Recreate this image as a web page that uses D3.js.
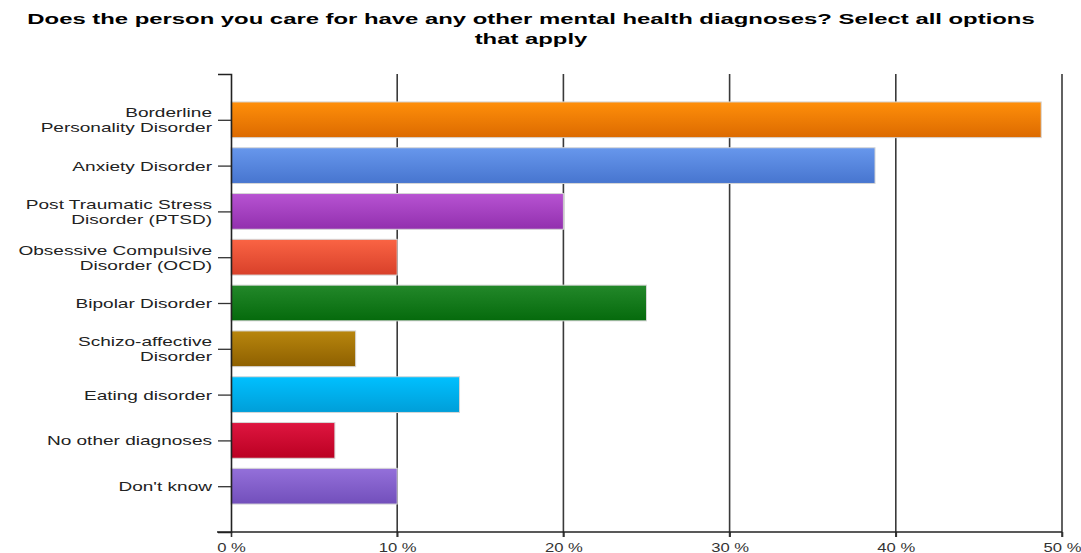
<!DOCTYPE html>
<html>
<head>
<meta charset="utf-8">
<script src="https://cdn.jsdelivr.net/npm/d3@7"></script>
<style>
  html, body { margin: 0; padding: 0; background: #fff; }
  svg { display: block; }
  text { font-family: "Liberation Sans", Arial, sans-serif; }
</style>
</head>
<body>
<svg id="chart" width="1081" height="553"></svg>
<script>
// Survey responses: share of carers selecting each additional diagnosis
const categories = [
  "Borderline\nPersonality Disorder",
  "Anxiety Disorder",
  "Post Traumatic Stress\nDisorder (PTSD)",
  "Obsessive Compulsive\nDisorder (OCD)",
  "Bipolar Disorder",
  "Schizo-affective\nDisorder",
  "Eating disorder",
  "No other diagnoses",
  "Don't know"
];
const percentages = [48.75, 38.75, 20, 10, 25, 7.5, 13.75, 6.25, 10];
const barColors = [
  ["#ff8f0a", "#dc6a00"],
  ["#6797ec", "#4775cf"],
  ["#b753d2", "#9230ae"],
  ["#fa6444", "#d8402a"],
  ["#23882a", "#056a0c"],
  ["#b8860e", "#8e6000"],
  ["#00c0ff", "#009ed8"],
  ["#de1640", "#bb0022"],
  ["#9470da", "#724fbb"]
];
const xTicks = [0, 10, 20, 30, 40, 50];
const titleLines = [
  "Does the person you care for have any other mental health diagnoses? Select all options",
  "that apply"
];

const svg = d3.select("#chart");
// horizontal stretch of the wide letterforms
const titleStretch = 1.54;
const labelStretch = 1.41;
const tickStretch = 1.28;

const x = d3.scaleLinear().domain([0, 50]).range([231, 1062]);
const y = d3.scalePoint().domain(categories).range([74, 532]).padding(1);
const barH = y.step() * 0.78;

// vertical gradients for the bars
const defs = svg.append("defs");
barColors.forEach((c, i) => {
  const g = defs.append("linearGradient").attr("id", "grad" + i)
    .attr("x1", 0).attr("y1", 0).attr("x2", 0).attr("y2", 1);
  g.append("stop").attr("offset", "0%").attr("stop-color", c[0]);
  g.append("stop").attr("offset", "100%").attr("stop-color", c[1]);
});

// title
const title = svg.append("g");
titleLines.forEach((t, i) => {
  title.append("text")
    .attr("x", 0).attr("y", 0)
    .attr("text-anchor", "middle")
    .attr("font-size", 15.5).attr("font-weight", "bold").attr("fill", "#000")
    .attr("transform", `translate(531,${24 + i * 20}) scale(${titleStretch},1)`)
    .text(t);
});

// vertical grid lines + bottom tick marks
svg.append("g").selectAll("line").data(xTicks.slice(1)).join("line")
  .attr("x1", d => x(d)).attr("x2", d => x(d))
  .attr("y1", 74).attr("y2", 537)
  .attr("stroke", "#3a3a3a").attr("stroke-width", 1.6);

// bars
svg.append("g").selectAll("rect").data(categories).join("rect")
  .attr("x", x(0))
  .attr("y", d => y(d) - barH / 2)
  .attr("width", (d, i) => x(percentages[i]) - x(0))
  .attr("height", barH)
  .attr("fill", (d, i) => `url(#grad${i})`)
  .attr("stroke", "#d6d6d6").attr("stroke-width", 1);

// y axis
const yAxis = svg.append("g").attr("transform", `translate(${x(0)},0)`)
  .call(d3.axisLeft(y).tickSize(13).tickSizeOuter(13).tickFormat(""));
yAxis.select(".domain").attr("stroke", "#222").attr("stroke-width", 1.6);
yAxis.selectAll(".tick line").attr("stroke", "#333").attr("stroke-width", 1.3);

// category labels (wrapped on \n)
const labels = svg.append("g");
categories.forEach(c => {
  const lines = c.split("\n");
  lines.forEach((ln, j) => {
    const dy = (j - (lines.length - 1) / 2) * 15;
    labels.append("text")
      .attr("x", 0).attr("y", 0)
      .attr("text-anchor", "end").attr("dominant-baseline", "central")
      .attr("font-size", 13.5).attr("fill", "#222")
      .attr("transform", `translate(212,${y(c) + dy}) scale(${labelStretch},1)`)
      .text(ln);
  });
});

// x axis
const xAxis = svg.append("g").attr("transform", "translate(0,532)")
  .call(d3.axisBottom(x).tickValues(xTicks).tickSize(5).tickSizeOuter(0).tickFormat(d => d + " %"));
xAxis.select(".domain").remove();
xAxis.append("line").attr("x1", 217).attr("x2", x(50)).attr("y1", 0).attr("y2", 0)
  .attr("stroke", "#222").attr("stroke-width", 1.6);
xAxis.selectAll(".tick line").attr("stroke", "#333").attr("stroke-width", 1.6);
xAxis.selectAll(".tick text")
  .attr("font-size", 13).attr("fill", "#333")
  .attr("y", 0).attr("dy", 0)
  .attr("transform", `translate(0,19.5) scale(${tickStretch},1)`);
</script>
</body>
</html>
